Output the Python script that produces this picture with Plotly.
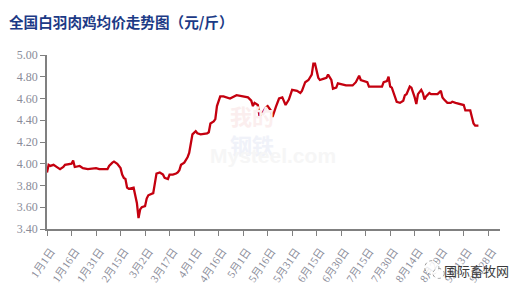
import plotly.graph_objects as go

days = [0,1,2,4,7,8,10,11,15,16,17,20,22,25,30,32,37,38,40,41,43,45,46,47,48,49,50,52,53,55,56,57,58,60,61,62,65,66,67,69,71,72,74,75,77,79,80,81,82,84,86,87,88,89,91,92,94,98,99,100,102,103,104,106,108,112,116,120,123,125,126,127,129,130,132,134,135,137,138,140,142,144,146,148,150,153,155,156,158,160,162,163,164,166,167,169,171,172,174,175,177,178,180,183,187,189,191,192,196,197,200,205,206,208,209,210,211,212,214,216,218,219,220,222,223,225,226,227,229,230,231,232,234,235,239,241,242,243,245,247,248,250,252,255,256,259,260,261,262,264]
prices = [3.92,3.99,3.98,3.99,3.96,3.95,3.97,3.99,4.00,4.03,3.97,3.98,3.96,3.95,3.96,3.95,3.95,3.98,4.01,4.02,4.00,3.96,3.90,3.87,3.86,3.78,3.77,3.78,3.78,3.64,3.50,3.58,3.60,3.61,3.68,3.71,3.73,3.82,3.91,3.92,3.90,3.87,3.86,3.90,3.90,3.91,3.92,3.94,3.99,4.01,4.06,4.10,4.18,4.27,4.30,4.28,4.27,4.28,4.29,4.37,4.39,4.41,4.53,4.62,4.62,4.60,4.63,4.62,4.61,4.58,4.53,4.56,4.54,4.44,4.47,4.52,4.53,4.49,4.43,4.52,4.60,4.61,4.54,4.59,4.68,4.67,4.65,4.67,4.75,4.77,4.82,4.92,4.92,4.79,4.77,4.78,4.79,4.82,4.77,4.69,4.70,4.74,4.73,4.72,4.72,4.75,4.81,4.77,4.75,4.71,4.71,4.71,4.75,4.76,4.80,4.71,4.70,4.66,4.57,4.56,4.58,4.63,4.64,4.71,4.70,4.61,4.55,4.64,4.68,4.65,4.59,4.62,4.65,4.64,4.64,4.67,4.61,4.59,4.56,4.56,4.57,4.56,4.55,4.54,4.49,4.49,4.43,4.37,4.35,4.35]

tick_days = [0,15,30,45,60,75,90,105,120,135,150,165,180,195,210,225,240,255,270]
tick_labels = ["1月1日","1月16日","1月31日","2月15日","3月2日","3月17日","4月1日","4月16日","5月1日",
               "5月16日","5月31日","6月15日","6月30日","7月15日","7月30日","8月14日","8月29日","9月13日","9月28日"]
y_ticks = [3.40,3.60,3.80,4.00,4.20,4.40,4.60,4.80,5.00]

title = "全国白羽肉鸡均价走势图（元/斤）"
source = "国际畜牧网"
serif = "Liberation Serif, Noto Sans CJK SC, serif"

fig = go.Figure()
fig.add_trace(go.Scatter(x=days, y=prices, mode="lines",
                         line=dict(color="#c4000f", width=2.3), hoverinfo="skip"))

# watermark (very faint)
fig.add_annotation(x=0.40, y=0.57, xref="paper", yref="paper",
                   text="<b><span style='color:#fbeeee'>我的</span><br><span style='color:#f0f2f9'>钢铁</span></b>",
                   showarrow=False, font=dict(family="Noto Sans CJK SC", size=22), align="left",
                   xanchor="left", yanchor="middle")
fig.add_annotation(x=0.355, y=0.42, xref="paper", yref="paper", text="<b>Mysteel.com</b>", showarrow=False,
                   font=dict(family="Liberation Sans", size=21, color="#f6f6f6"), xanchor="left", yanchor="middle")

fig.add_annotation(x=-0.088, y=1.193, xref="paper", yref="paper", text="<b>" + title + "</b>", showarrow=False,
                   font=dict(family="Noto Sans CJK SC", size=14.6, color="#1c3a86"), xanchor="left", yanchor="middle")

fig.add_annotation(x=0.872, y=-0.239, xref="paper", yref="paper", text=source, showarrow=False,
                   font=dict(family="Noto Sans CJK SC", size=13, color="#3a3a3a"), xanchor="left", yanchor="middle")
fig.add_shape(type="circle", xref="paper", yref="paper", x0=0.834, x1=0.865, y0=-0.261, y1=-0.182,
              line=dict(color="#9a9a9a", width=1, dash="dot"), fillcolor="rgba(255,255,255,0.8)")
fig.add_shape(type="circle", xref="paper", yref="paper", x0=0.852, x1=0.877, y0=-0.284, y1=-0.227,
              line=dict(color="#9a9a9a", width=1, dash="dot"), fillcolor="rgba(255,255,255,0.8)")

fig.update_layout(
    width=522, height=296,
    margin=dict(l=47, r=22, t=55, b=65),
    paper_bgcolor="white", plot_bgcolor="white",
    showlegend=False,
    xaxis=dict(range=[0, 277.2], tickmode="array", tickvals=tick_days, ticktext=tick_labels,
               tickangle=-55, showgrid=False, zeroline=False, showline=True, linecolor="#808080",
               linewidth=1.5, ticks="outside", ticklen=5, tickcolor="#808080",
               ticklabelstandoff=5, ticklabelshift=4,
               tickfont=dict(family=serif, size=11, color="#8a8c99")),
    yaxis=dict(range=[3.40, 5.00], tickmode="array", tickvals=y_ticks, tickformat=".2f",
               showgrid=False, zeroline=False, showline=True, linecolor="#808080", linewidth=1.5,
               ticks="outside", ticklen=5, tickcolor="#808080",
               tickfont=dict(family=serif, size=12, color="#8a8c99")),
)
fig.write_html("out.html")
